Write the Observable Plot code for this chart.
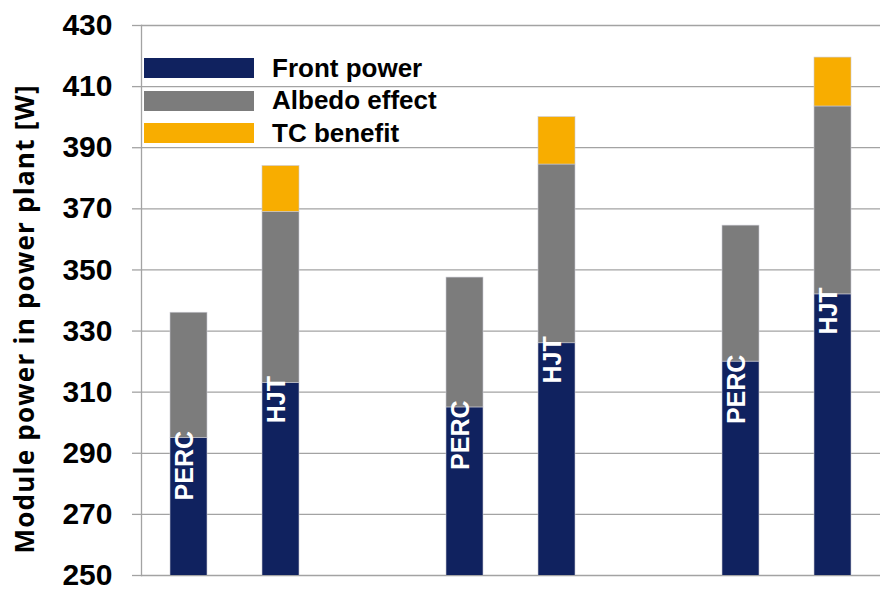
<!DOCTYPE html>
<html>
<head>
<meta charset="utf-8">
<script src="https://cdn.jsdelivr.net/npm/d3@7"></script>
<script src="https://cdn.jsdelivr.net/npm/@observablehq/plot@0.6"></script>
<style>
  html, body { margin: 0; padding: 0; background: #fff; }
  #wrap { position: relative; width: 885px; height: 590px; }
  #legend { position: absolute; left: 144px; top: 52px; font-family: "Liberation Sans", Arial, sans-serif; font-weight: bold; font-size: 26px; color: #000; }
  .row { display: flex; align-items: center; height: 32.5px; }
  .sw { width: 110px; height: 20px; margin-right: 18px; }
</style>
</head>
<body>
<div id="wrap"><div id="legend"></div></div>
<script>
// ---- data ----
const groups = ["1", "1", "2", "2", "3", "3"];
const technologies = ["PERC", "HJT", "PERC", "HJT", "PERC", "HJT"];
const frontPower = [295, 313, 305, 326, 320, 342];
const albedoEffect = [41, 56, 42.5, 58.5, 44.5, 61.5];
const tcBenefit = [0, 15, 0, 15.5, 0, 16];
const seriesNames = ["Front power", "Albedo effect", "TC benefit"];
const seriesColors = ["#10225f", "#7c7c7c", "#f8ad00"];
const yTicks = [250, 270, 290, 310, 330, 350, 370, 390, 410, 430];
const yTitle = "Module power in power plant [W]";

// ---- build tables ----
const keys = technologies.map((t, i) => `${t} ${groups[i]}`);
const xDomain = [];
const groupIds = [...new Set(groups)];
groupIds.forEach((g, gi) => {
  keys.forEach((k, i) => { if (groups[i] === g) xDomain.push(k); });
  if (gi < groupIds.length - 1) xDomain.push(`gap ${g}`);
});
const seriesValues = [frontPower, albedoEffect, tcBenefit];
const rows = [];
keys.forEach((k, i) => {
  seriesNames.forEach((s, si) => {
    rows.push({key: k, series: s, value: seriesValues[si][i]});
  });
});
const labels = keys.map((k, i) => ({key: k, tech: technologies[i], front: frontPower[i]}));

const chart = Plot.plot({
  width: 885,
  height: 590,
  marginLeft: 141,
  marginRight: 5,
  marginTop: 25,
  marginBottom: 15,
  x: {domain: xDomain, paddingInner: 0.6, paddingOuter: 0.3, axis: null},
  y: {domain: [250, 430], ticks: yTicks},
  color: {domain: seriesNames, range: seriesColors},
  marks: [
    Plot.gridY(yTicks, {stroke: "#a3a3a3", strokeOpacity: 1, strokeWidth: 1.3}),
    Plot.axisY(yTicks, {
      tickSize: 9, tickPadding: 20, fontSize: 30, fontWeight: "bold",
      fontFamily: "Liberation Sans, Arial, sans-serif", stroke: "#a3a3a3", strokeWidth: 1.3,
      color: "#000", label: null
    }),
    Plot.frame({anchor: "left", stroke: "#a3a3a3", strokeWidth: 1.3}),
    Plot.barY(rows, Plot.stackY({
      x: "key", y: "value", fill: "series", order: seriesNames, clip: true,
      stroke: "#c9c9d2", strokeWidth: 0.6
    })),
    Plot.text(labels, {
      x: "key", y: "front", text: "tech", rotate: -90, textAnchor: "end",
      dy: -7, dx: -4, fill: "#fff", fontSize: 25, fontWeight: "bold",
      fontFamily: "Liberation Sans, Arial, sans-serif"
    }),
    Plot.text([yTitle], {
      frameAnchor: "left", textAnchor: "middle", rotate: -90, dx: -116, dy: 19,
      fontSize: 26, fontWeight: "bold", fill: "#000",
      fontFamily: "Open Sans, sans-serif"
    })
  ]
});
d3.select(chart).selectAll("text")
  .filter(function() { return this.textContent === yTitle; })
  .attr("textLength", 468).attr("lengthAdjust", "spacing");
document.getElementById("wrap").prepend(chart);

// ---- legend ----
const legend = document.getElementById("legend");
seriesNames.forEach((s, i) => {
  const row = document.createElement("div");
  row.className = "row";
  const sw = document.createElement("div");
  sw.className = "sw";
  sw.style.background = seriesColors[i];
  const t = document.createElement("span");
  t.textContent = s;
  row.append(sw, t);
  legend.append(row);
});
</script>
</body>
</html>
